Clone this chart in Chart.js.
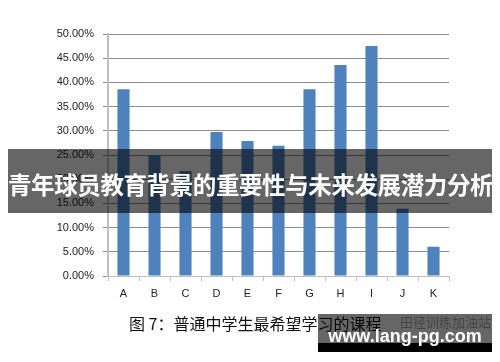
<!DOCTYPE html>
<html>
<head>
<meta charset="utf-8">
<script src="https://cdn.jsdelivr.net/npm/chart.js@4/dist/chart.umd.min.js"></script>
<style>
  html, body { margin: 0; padding: 0; background: #fff; }
  #wrap { position: relative; width: 500px; height: 362px; overflow: hidden; }
  #c { position: absolute; left: 0; top: 0; }
  .banner { position: absolute; left: 8px; top: 149px; width: 484px; height: 64px;
    background: rgba(0,0,0,0.6); color: #fff; font-family: "Noto Sans CJK SC", sans-serif;
    font-weight: 700; font-size: 23.5px; letter-spacing: -0.4px; line-height: 70px; white-space: nowrap; text-align: center; }
  .caption { position: absolute; left: 129px; top: 312px; font-family: "Noto Sans CJK SC", sans-serif;
    font-size: 16px; color: #111; white-space: nowrap; line-height: 22px; }
  .wm { position: absolute; left: 318px; top: 314px; width: 174px; height: 38px; }
  .wm .top { position: absolute; left: 0; top: 0; width: 174px; height: 29px; background: rgba(0,0,0,0.6); }
  .wm .bot { position: absolute; left: 0; top: 29px; width: 174px; height: 9px; background: #000; }
  .wm .faint { position: absolute; left: 82px; top: 0px; font-family: "Noto Sans CJK SC", sans-serif;
    font-size: 13px; color: rgba(0,0,0,0.35); white-space: nowrap; line-height: 16px; }
  .wm .url { position: absolute; left: 0; width: 174px; top: 12px; text-align: center;
    font-family: "Liberation Sans", Arial, sans-serif; font-weight: 700; font-size: 18px;
    color: #fff; line-height: 20px; white-space: nowrap; }
</style>
</head>
<body>
<div id="wrap">
  <canvas id="c" width="500" height="362"></canvas>
  <div class="banner">青年球员教育背景的重要性与未来发展潜力分析</div>
  <div class="caption">图 7：普通中学生最希望学习的课程</div>
  <div class="wm">
    <div class="top"></div>
    <div class="bot"></div>
    <div class="faint">田径训练加油站</div>
    <div class="url">www.lang-pg.com</div>
  </div>
</div>
<script>
const categories = ["A","B","C","D","E","F","G","H","I","J","K"];
const values = [38.6, 25.0, 21.7, 29.75, 27.9, 26.9, 38.6, 43.6, 47.5, 13.9, 6.05];
const yTicks = [0,5,10,15,20,25,30,35,40,45,50];

new Chart(document.getElementById('c'), {
  type: 'bar',
  data: {
    labels: categories,
    datasets: [{ data: values, backgroundColor: '#4F81BD', borderWidth: 0,
      categoryPercentage: 1, barPercentage: 0.39 }]
  },
  options: {
    responsive: false, animation: false,
    layout: { padding: { top: 34, right: 51, bottom: 0, left: 0 } },
    plugins: { legend: { display: false }, tooltip: { enabled: false } },
    scales: {
      x: {
        offset: true,
        grid: { offset: true, drawOnChartArea: false, tickLength: 5, color: '#bfbfbf', lineWidth: 1 },
        border: { color: '#bfbfbf', width: 1 },
        ticks: { padding: 6, color: '#222', font: { family: 'Liberation Sans', size: 11 } },
        afterFit: s => { s.height = 86; s.paddingLeft = 0; s.paddingRight = 0; }
      },
      y: {
        min: 0, max: 50,
        afterBuildTicks: s => { s.ticks = yTicks.map(v => ({ value: v })); },
        grid: { color: '#8c8c8c', lineWidth: 1, tickLength: 5 },
        border: { color: '#c0c0c0', width: 2 },
        ticks: { padding: 9, color: '#222', font: { family: 'Liberation Sans', size: 11 },
          callback: v => Number(v).toFixed(2) + '%' },
        afterFit: s => { s.width = 108; s.paddingTop = 0; s.paddingBottom = 0; }
      }
    }
  }
});
</script>
</body>
</html>
